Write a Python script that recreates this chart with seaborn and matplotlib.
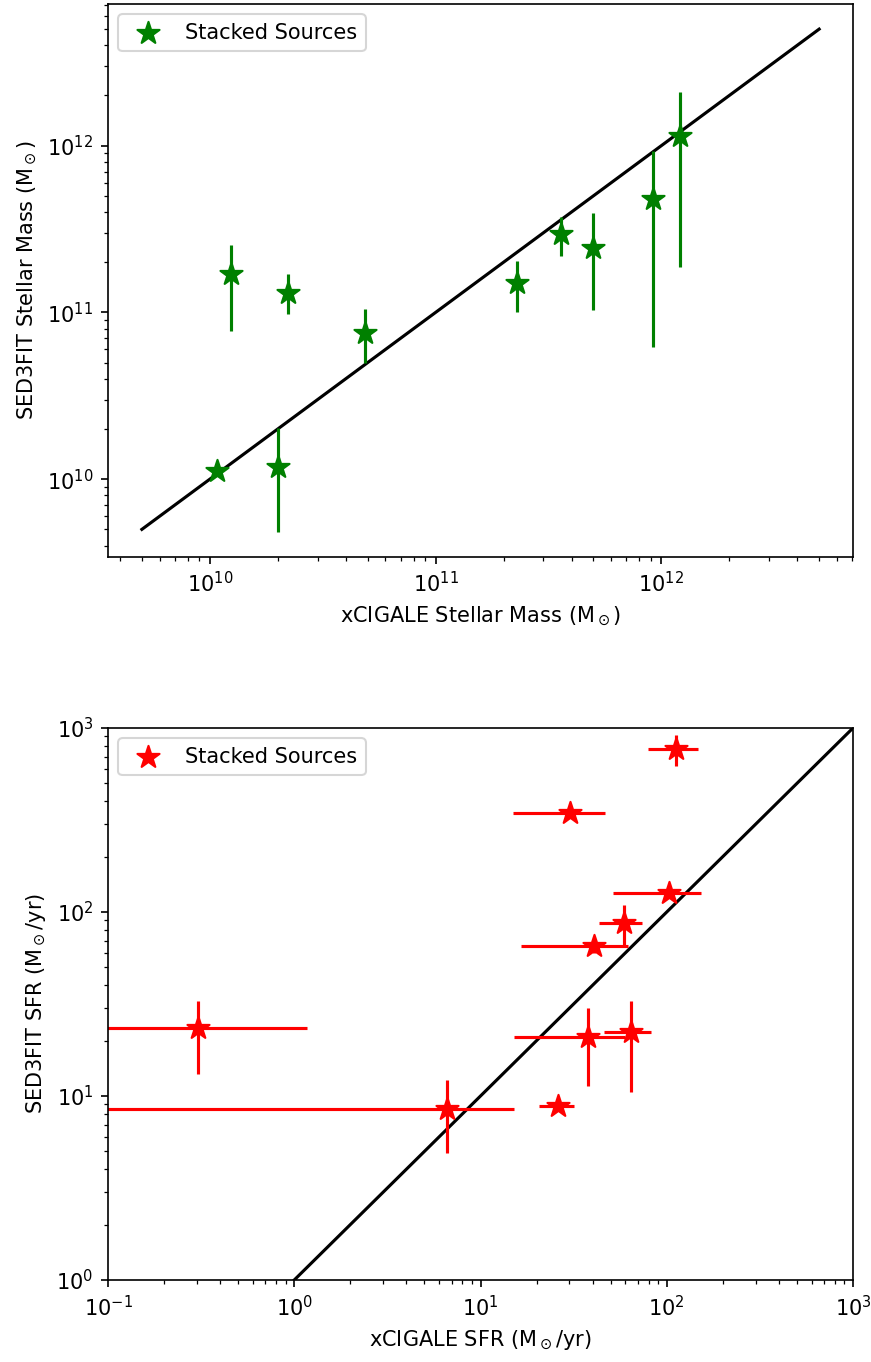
import matplotlib
matplotlib.use("Agg")
import matplotlib.pyplot as plt
import seaborn as sns
import numpy as np

# ---- Stellar mass data (top panel) ----
mass_x = [1.08e10, 1.24e10, 2.0e10, 2.23e10, 4.87e10, 2.3e11, 3.6e11, 5.0e11, 9.2e11, 1.21e12]
mass_y = [1.12e10, 1.69e11, 1.19e10, 1.30e11, 7.55e10, 1.50e11, 2.96e11, 2.44e11, 4.8e11, 1.15e12]
mass_y_lo = [1.08e10, 7.76e10, 4.85e9, 9.75e10, 4.95e10, 1.01e11, 2.18e11, 1.04e11, 6.2e10, 1.86e11]
mass_y_hi = [1.17e10, 2.55e11, 2.03e10, 1.69e11, 1.05e11, 2.03e11, 3.75e11, 3.95e11, 9.3e11, 2.1e12]
mass_line = [5e9, 5e12]

# ---- SFR data (bottom panel) ----
sfr_x = [0.303, 6.59, 26.2, 38.0, 64.1, 40.8, 59.3, 102.8, 30.4, 111.9]
sfr_x_lo = [0.02, 0.05, 20.5, 15.2, 46.0, 16.6, 43.4, 51.3, 15.0, 79.0]
sfr_x_hi = [1.17, 15.2, 31.8, 60.0, 82.4, 62.1, 73.5, 152.7, 46.6, 148.0]
sfr_y = [23.4, 8.47, 8.83, 21.0, 22.2, 65.2, 87.1, 126.7, 347.0, 766.0]
sfr_y_lo = [13.1, 4.89, 8.5, 11.3, 10.5, 60.0, 65.0, 120.0, 330.0, 625.0]
sfr_y_hi = [32.9, 12.2, 9.2, 30.1, 33.0, 70.0, 109.0, 133.0, 365.0, 916.0]
sfr_line = [1, 1000]

label = "Stacked Sources"


def log_limits(lo, hi, margin=0.05):
    a, b = np.log10(lo), np.log10(hi)
    d = (b - a) * margin
    return 10 ** (a - d), 10 ** (b + d)


DPI = 150
fig = plt.figure(figsize=(871 / DPI, 1362 / DPI), dpi=DPI)
W, H = 871, 1362
ax1 = fig.add_axes([108 / W, 1 - 556.7 / H, 745 / W, 552.7 / H])
ax2 = fig.add_axes([108 / W, 1 - 1280 / H, 745 / W, 552 / H])

# Top panel
ax1.set_xscale("log")
ax1.set_yscale("log")
sns.lineplot(x=mass_line, y=mass_line, color="black", ax=ax1, zorder=1)
my = np.array(mass_y)
ax1.errorbar(mass_x, mass_y, yerr=[my - np.array(mass_y_lo), np.array(mass_y_hi) - my],
             fmt="none", ecolor="green", elinewidth=1.5, zorder=2)
sns.scatterplot(x=mass_x, y=mass_y, marker="*", s=125, color="green",
                edgecolor="green", linewidth=1, label=label, ax=ax1, zorder=3)
ax1.set_xlim(*log_limits(min(min(mass_x), mass_line[0]), max(max(mass_x), mass_line[1])))
ax1.set_ylim(*log_limits(min(min(mass_y_lo), mass_line[0]), max(max(mass_y_hi), mass_line[1])))
ax1.set_xlabel(r"xCIGALE Stellar Mass (M$_\odot$)")
ax1.set_ylabel(r"SED3FIT Stellar Mass (M$_\odot$)")
ax1.legend(loc="upper left")

# Bottom panel
ax2.set_xscale("log")
ax2.set_yscale("log")
sns.lineplot(x=sfr_line, y=sfr_line, color="black", ax=ax2, zorder=1)
sx = np.array(sfr_x)
sy = np.array(sfr_y)
ax2.errorbar(sfr_x, sfr_y,
             xerr=[sx - np.array(sfr_x_lo), np.array(sfr_x_hi) - sx],
             yerr=[sy - np.array(sfr_y_lo), np.array(sfr_y_hi) - sy],
             fmt="none", ecolor="red", elinewidth=1.5, zorder=2)
sns.scatterplot(x=sfr_x, y=sfr_y, marker="*", s=125, color="red",
                edgecolor="red", linewidth=1, label=label, ax=ax2, zorder=3)
ax2.set_xlim(0.1, 1000)
ax2.set_ylim(1, 1000)
ax2.set_xlabel(r"xCIGALE SFR (M$_\odot$/yr)")
ax2.set_ylabel(r"SED3FIT SFR (M$_\odot$/yr)")
ax2.legend(loc="upper left")

fig.savefig("out.png", dpi=DPI)
